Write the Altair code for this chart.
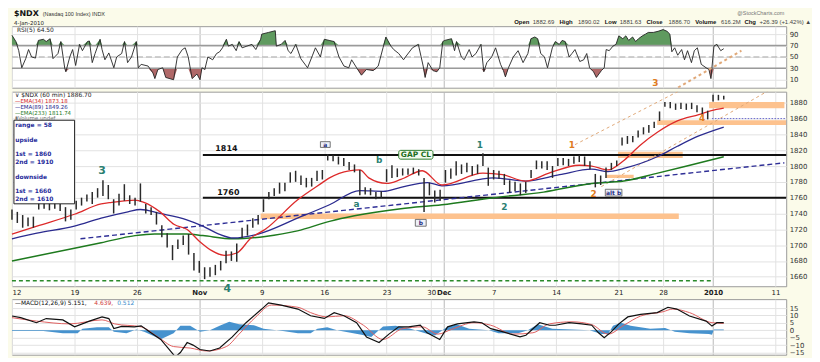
import altair as alt
import pandas as pd

FONT = "DejaVu Sans"
FONT2 = "Liberation Sans"
W = 780
H_RSI, H_PRICE, H_MACD = 62, 196, 56
X_MAX = 434

# x axis = index of 60-minute bars (7 per session, 4 on half days) from 12-Oct-2009
TICK_BARS = [0, 35, 70, 105, 140, 175, 210, 235, 242, 270, 305, 340, 365, 393, 428]
TICK_LABELS = ["12", "19", "26", "Nov", "9", "16", "23", "30", "Dec", "7", "14", "21", "28", "2010", "11"]
MONTH_BARS = [105, 242, 393]

# price bars, one every 3 hourly bars
BAR_STEP = 3
LOW = [1732, 1728, 1722, 1724, 1722, 1745, 1746, 1744, 1746, 1743,
       1730, 1732, 1745, 1750, 1755, 1752, 1760, 1762, 1758, 1740,
       1750, 1756, 1752, 1750, 1755, 1740, 1738, 1726, 1710, 1697,
       1681, 1695, 1700, 1688, 1668, 1665, 1657, 1660, 1662, 1668,
       1677, 1680, 1679, 1709, 1712, 1722, 1726, 1742, 1758, 1762,
       1765, 1768, 1779, 1780, 1776, 1773, 1774, 1781, 1783, 1807,
       1806, 1802, 1800, 1795, 1792, 1763, 1764, 1763, 1758, 1760,
       1780, 1785, 1786, 1788, 1789, 1790, 1788, 1742, 1763, 1754,
       1756, 1779, 1784, 1788, 1790, 1792, 1788, 1790, 1800, 1775,
       1783, 1784, 1776, 1766, 1768, 1763, 1766, 1785, 1796, 1797,
       1795, 1785, 1800, 1801, 1800, 1803, 1805, 1800, 1796, 1773,
       1776, 1785, 1795, 1800, 1826, 1828, 1830, 1836, 1840, 1842,
       1848, 1857, 1875, 1873, 1871, 1872, 1871, 1872, 1868, 1865,
       1859, 1881.6, 1883, 1884]
HIGH = [1745, 1742, 1738, 1735, 1736, 1756, 1755, 1753, 1756, 1752,
        1748, 1745, 1756, 1760, 1764, 1767, 1772, 1782, 1776, 1758,
        1765, 1777, 1763, 1760, 1778, 1752, 1748, 1742, 1725, 1715,
        1700, 1707, 1712, 1714, 1690, 1680, 1672, 1672, 1675, 1680,
        1693, 1692, 1702, 1722, 1726, 1734, 1738, 1758, 1767, 1772,
        1779, 1779, 1792, 1794, 1788, 1785, 1785, 1794, 1795, 1815,
        1814, 1812, 1810, 1805, 1802, 1795, 1773, 1772, 1767, 1768,
        1796, 1801, 1797, 1797, 1797, 1798, 1796, 1785, 1779, 1769,
        1770, 1795, 1797, 1806, 1802, 1804, 1800, 1802, 1816, 1798,
        1795, 1794, 1790, 1782, 1780, 1778, 1780, 1795, 1807, 1806,
        1806, 1800, 1810, 1810, 1809, 1812, 1814, 1812, 1806, 1790,
        1788, 1798, 1804, 1807, 1836, 1838, 1838, 1845, 1849, 1852,
        1856, 1869, 1881, 1881, 1879, 1880, 1879, 1880, 1877, 1874,
        1870, 1890, 1890, 1889]

EMA34 = [(0, 1714), (14, 1724), (35, 1739), (50, 1752), (56, 1754), (69, 1757), (74, 1754), (83, 1742),
         (91, 1726), (98, 1720), (105, 1705), (112, 1693), (119, 1687), (126, 1690), (134, 1709), (142, 1720),
         (160, 1757), (174, 1779), (178, 1785), (189, 1794), (195, 1795), (200, 1785), (210, 1778), (218, 1783),
         (230, 1794), (241, 1776), (264, 1791), (275, 1789), (288, 1781), (301, 1791), (318, 1801), (325, 1800),
         (334, 1795), (343, 1807), (352, 1826), (362, 1843), (373, 1857), (385, 1865), (392, 1870), (399, 1873.18)]
EMA89 = [(0, 1708), (14, 1715), (35, 1724), (50, 1734), (65, 1742), (72, 1745), (83, 1740), (98, 1732),
         (107, 1724), (116, 1714), (124, 1709), (138, 1714), (160, 1734), (178, 1751), (195, 1769), (208, 1768),
         (218, 1773), (233, 1779), (241, 1775), (270, 1785), (288, 1781), (307, 1789), (325, 1796), (334, 1793),
         (343, 1797), (362, 1812), (373, 1825), (385, 1838), (399, 1849.26)]
EMA233 = [(0, 1680), (35, 1696), (50, 1703), (69, 1712), (80, 1714), (98, 1714), (107, 1712), (124, 1708),
          (142, 1711), (160, 1718), (178, 1730), (192, 1737), (218, 1746), (241, 1751), (270, 1760), (298, 1767),
          (325, 1778), (343, 1781), (362, 1791), (380, 1801), (399, 1811.74)]

RSI = [(0, 88), (2.2, 77), (3.8, 61), (5.5, 31), (7.7, 47), (9.3, 63), (11, 50), (13.2, 48), (14.8, 79),
       (17.6, 81), (19.2, 77), (21.4, 82), (23, 47), (25.8, 56), (27.4, 77), (29.6, 30), (30.2, 24), (32.4, 50),
       (34, 63), (35.7, 35), (37.9, 72), (39.5, 61), (42.3, 77), (43.4, 78), (45, 40), (46.6, 56), (49.4, 81),
       (50.5, 63), (52.1, 45), (54.3, 57), (57.1, 31), (58.7, 50), (61.5, 56), (63.1, 77), (64.8, 40), (67, 50),
       (69.7, 77), (70.8, 31), (72.4, 37), (76.3, 34), (79, 22), (80.1, 12), (81.8, 28), (84.5, 31), (86.2, 14),
       (90.6, 10), (92.7, 50), (95.5, 63), (97.1, 66), (98.8, 50), (101, 12), (103.7, 20), (105.4, 10),
       (106.5, 31), (108.1, 28), (109.8, 50), (112.5, 45), (114.7, 56), (116.4, 59), (118, 66), (120.2, 81),
       (121.3, 69), (123.5, 72), (125.7, 61), (127.3, 77), (129, 66), (131.7, 69), (134.5, 72), (136.7, 63),
       (139.4, 81), (140, 90), (143.8, 93), (147.6, 96), (148.2, 69), (150.9, 72), (153.1, 79), (154.8, 61),
       (156.4, 56), (159.1, 72), (161.9, 47), (165.7, 31), (168.5, 53), (170.1, 66), (172.9, 50), (175.1, 81),
       (177.8, 79), (180.6, 77), (183.3, 50), (186.1, 34), (188.8, 31), (190.4, 45), (193.2, 31), (195.9, 18),
       (198.7, 28), (202.5, 26), (205.3, 34), (208, 66), (209.6, 85), (212.4, 69), (214, 63), (216.8, 56),
       (219.5, 45), (220.6, 50), (224.5, 66), (227.8, 72), (230.5, 34), (231.6, 14), (233.3, 40), (236, 26),
       (238.2, 24), (239.8, 31), (241.5, 77), (242.6, 79), (246.4, 82), (248.1, 61), (249.2, 77), (251.9, 50),
       (253.5, 45), (256.3, 63), (257.9, 50), (260.1, 56), (262.9, 72), (264.5, 24), (266.2, 40), (268.9, 50),
       (271.1, 66), (273.9, 37), (275.5, 26), (276.6, 15), (278.3, 31), (281, 50), (283.7, 61), (286.5, 40),
       (289.2, 56), (290.9, 82), (293.1, 85), (294.7, 82), (296.4, 56), (298.5, 50), (300.2, 31), (302.9, 66),
       (304.6, 77), (306.8, 72), (308.4, 79), (310.1, 77), (312.3, 50), (313.9, 56), (315.6, 63), (318.3, 42),
       (320.5, 45), (322.2, 56), (323.8, 31), (326, 24), (327.6, 14), (330.4, 26), (332, 31), (333.1, 63),
       (334.8, 61), (336.9, 69), (338.6, 72), (340.2, 87), (342.4, 82), (344.1, 87), (345.7, 79), (347.9, 85),
       (349.6, 77), (351.2, 82), (353.4, 87), (355.1, 90), (356.7, 93), (359.5, 93), (362.2, 95), (365, 98),
       (367.2, 95), (368.8, 90), (369.9, 59), (371.5, 66), (373.2, 53), (375.4, 63), (377, 45), (378.7, 61),
       (380.9, 40), (382.5, 61), (384.2, 66), (386.4, 37), (389.1, 31), (390.7, 28), (391.8, 12), (393.5, 69),
       (395.1, 72), (397.3, 61), (399, 64.5)]

MACD = [(0, 9.6), (4.9, 8.5), (13.7, 5.1), (19.2, 7.9), (28.5, 7.0), (35.1, 2.3), (43.4, 6.2), (50.5, 9.0),
        (54.3, 7.9), (57.1, 1.1), (61.5, 2.6), (68.6, 2.3), (72.4, 3.0), (77.9, -1.7), (83.4, -6.2), (88.9, -14),
        (91.6, -18), (94.4, -15), (98.2, -8.3), (101.5, -10), (105.4, -13), (110.9, -14), (116.4, -12),
        (123.5, -4.5), (131.2, 5.1), (140, 14.3), (143.8, 18.5), (150.9, 17), (160.3, 14.3), (167.4, 9.8),
        (175.1, 8.0), (180.6, 11.9), (186.1, 9.8), (193.2, 5.1), (198.7, -4.5), (205.8, -8.3), (211.3, -2.6),
        (216.8, 2.3), (222.3, 2.3), (228.9, 3.4), (232.7, -1.7), (239.8, -6.2), (244.2, 2.3), (249.7, 4.3),
        (259, 5.7), (263.4, 5.1), (268.4, 1.1), (273.9, -0.6), (284.8, -4.5), (288.1, -3.4), (295.8, 5.1),
        (301.3, 3.4), (304.6, 3.4), (312.3, 5.1), (319.4, 4.3), (325, 3.4), (328.8, -1.7), (332, -5.1),
        (335.9, -1.1), (340.2, 4.3), (345.2, 9.0), (352.4, 10.7), (361.7, 11.9), (367.7, 15.5), (372.7, 14.3),
        (379.8, 9.6), (389.1, 6.2), (392.4, 2.8), (395.1, 5.1), (399, 5.151)]
SIGNAL = [(0, 8.5), (13.7, 6.2), (32.4, 4.3), (50.5, 7.0), (57.6, 4.3), (72.4, 2.3), (81.8, -4.5), (90.6, -11),
          (99.9, -12), (109.2, -14), (120.2, -11), (127.3, -2.6), (136.7, 9.0), (145.4, 17), (160.3, 15.5),
          (167.4, 11.9), (176.7, 9.0), (186.1, 9.8), (197, 3.4), (208, -6.2), (219, 1.1), (230, 2.3), (238.7, -2.6),
          (246.4, 0.6), (259, 5.1), (268.4, 3.4), (281, -2.6), (292, -1.7), (301.3, 4.3), (313.9, 5.7), (325, 3.8),
          (334.2, -2.6), (343, 3.4), (352.4, 9.6), (365, 12.5), (370.4, 14.3), (379.8, 11.9), (392.4, 5.1),
          (399, 4.639)]
HIST = [(0, -0.5), (17.6, -0.5), (28.5, -2), (36.8, -2), (39.5, 1), (47.7, 2), (54.3, 2), (57.1, -1), (64.2, -2),
        (69.7, 0.5), (74.1, -1), (83.4, -6), (90.6, -2), (94.4, 3), (99.9, 3), (105.4, -1), (110.9, 0), (116.4, 3),
        (121.8, 5.7), (127.3, 4), (135.6, 3.4), (141, 1), (151.9, -0.5), (160.3, -2), (167.4, -2), (171.2, 1),
        (176.7, 2), (182.2, 0), (195.9, -3), (201.4, -4.5), (208, 2.5), (215.1, 3), (223.4, 1), (231.6, -2),
        (237.1, -3.5), (243.7, 2), (249.2, 4), (256.3, 1), (267.3, 0), (272.8, -2), (283.7, -2), (289.2, 0),
        (294.7, 4), (302.9, 1), (313.9, 0.5), (323.8, 0), (330.4, -2.5), (334.2, -2.5), (336.9, 3), (341.3, 5),
        (346.8, 3), (357.8, 1), (366.1, 1.5), (371.6, -1), (379.8, -2), (390.7, -2.5), (392.4, -3), (393.5, 0.5),
        (399, 0.512)]

# annotations (bar index / price)
LEVELS = [1814, 1760]
LEVEL_FROM = 107
SUPPORT_DASH = 1655
SUPPORT_DASH_TO = 392
TREND = [(38.4, 1708), (433, 1804)]
CHANNEL_UP = [(315.6, 1827), (380, 1902)]
CHANNEL_LO = [(330.4, 1774), (430, 1903)]
CHANNEL_UP_RSI = [(370.5, -9), (408.9, 61)]
DOTTED_1860 = [(392.4, 1860), (434, 1860)]
BAND_B0 = [139.4, 339.7, 333.2, 361.7, 390.8]
BAND_B1 = [373.8, 376.0, 348.5, 434.0, 433.0]
BAND_LO = [1733, 1810, 1785, 1852, 1873]
BAND_HI = [1740, 1818, 1789, 1858, 1881]
TEAL_TXT = ["3", "4", "a", "b", "1", "2"]
TEAL_B = [50.5, 120.7, 193.2, 205.8, 262.3, 276.0]
TEAL_P = [1794, 1645, 1752, 1807, 1826, 1748.5]
TEAL_SIZE = [11, 11, 9, 9, 9, 9]
ORANGE_TXT = ["1", "2", "4"]
ORANGE_B = [313.9, 326.0, 386.9]
ORANGE_P = [1827, 1764.5, 1860.3]
BOX_TXT = ["a", "b", "alt b"]
BOX_B0 = [172.9, 226.1, 332.6]
BOX_B1 = [178.4, 232.2, 341.9]
BOX_P0 = [1823.5, 1723.9, 1762.0]
BOX_P1 = [1830.8, 1732.5, 1770.6]
RANGE_LINES = ["range = 58", "upside", "1st = 1860", "2nd = 1910", "downside", "1st = 1660", "2nd = 1610"]
RANGE_P = [1851.7, 1833.3, 1814.9, 1805.0, 1786.6, 1768.2, 1758.3]

XS = alt.Scale(domain=[0, X_MAX], nice=False, zero=False)
YR = alt.Scale(domain=[-4, 104], nice=False, zero=False)
YP = alt.Scale(domain=[1648, 1894], nice=False, zero=False)
YM = alt.Scale(domain=[-16.5, 21], nice=False, zero=False)

lab_arr = "[" + ",".join("'%s'" % s for s in TICK_LABELS) + "]"
val_arr = "[" + ",".join(str(v) for v in TICK_BARS) + "]"
month_test = "indexof([" + ",".join(str(v) for v in MONTH_BARS) + "], datum.value) >= 0"


def x_axis(show_labels):
    return alt.Axis(values=TICK_BARS, labelExpr=lab_arr + "[indexof(" + val_arr + ", datum.value)]",
                    labels=show_labels, ticks=False, domain=False, grid=True, title=None,
                    gridColor={"condition": {"test": month_test, "value": "#B8B8B8"}, "value": "#E2E2E2"},
                    labelFontWeight={"condition": {"test": month_test, "value": "bold"}, "value": "normal"},
                    labelFontSize=7, labelColor="#222", labelPadding=2, labelFont=FONT, labelFlush=True)


def y_axis(vals):
    return alt.Axis(values=vals, orient="right", ticks=False, domain=False, grid=True, gridColor="#E2E2E2",
                    title=None, labelFontSize=7, labelColor="#333", labelPadding=3, labelFont=FONT, format="d")


XA_R, XA_P, XA_M = x_axis(False), x_axis(True), x_axis(False)
YA_R = y_axis([10, 30, 50, 70, 90])
YA_P = y_axis(list(range(1660, 1881, 20)))
YA_M = y_axis([-15, -10, -5, 0, 5, 10, 15])


def pairs(lst):
    return pd.DataFrame({"b": [p[0] for p in lst], "v": [p[1] for p in lst]})


def ptext(text, x, y, size=6, color="#222", weight="normal", align="left", font=FONT):
    return alt.Chart(pd.DataFrame({"t": [text]})).mark_text(
        text=text, fontSize=size, color=color, fontWeight=weight, align=align, baseline="middle", font=font
    ).encode(x=alt.value(x), y=alt.value(y))


def X(f, ax):
    return alt.X(f + ":Q", scale=XS, axis=ax)


# ---------------- RSI panel ----------------
rsi_df = pairs(RSI)
rsi_df["up"] = rsi_df["v"].clip(lower=70)
rsi_df["dn"] = rsi_df["v"].clip(upper=30)
rsi_df["l70"] = 70
rsi_df["l30"] = 30
YRf = lambda f: alt.Y(f + ":Q", scale=YR, axis=YA_R)

rsi_up = alt.Chart(rsi_df).mark_area(color="#5F9A5F").encode(x=X("b", XA_R), y=YRf("up"), y2="l70:Q")
rsi_dn = alt.Chart(rsi_df).mark_area(color="#B06868").encode(x=X("b", XA_R), y=YRf("dn"), y2="l30:Q")
rsi_lv = alt.Chart(pd.DataFrame({"v": [70, 30]})).mark_rule(color="#9A9A9A", strokeWidth=1.5).encode(y=YRf("v"))
rsi_mid = alt.Chart(pd.DataFrame({"v": [50]})).mark_rule(color="#AAAAAA", strokeDash=[6, 3]).encode(y=YRf("v"))
rsi_line = alt.Chart(rsi_df).mark_line(color="#222", strokeWidth=0.9).encode(x=X("b", XA_R), y=YRf("v"))
chan_rsi = alt.Chart(pairs(CHANNEL_UP_RSI)).mark_line(color="#E0A878", strokeDash=[3, 3], clip=True).encode(
    x=X("b", XA_R), y=YRf("v"))
o3 = alt.Chart(pd.DataFrame({"b": [360.6], "v": [4]})).mark_text(
    text="3", color="#E07B20", fontSize=9, fontWeight="bold", font=FONT, baseline="middle").encode(
    x=X("b", XA_R), y=YRf("v"))

hdr = [ptext("$NDX", 2, -12, size=8, weight="bold", color="#111"),
       ptext("(Nasdaq 100 Index) INDX", 31, -12, size=5.5, color="#333", font=FONT2),
       ptext("4-Jan-2010", 2, -3, size=5.5, color="#222"),
       ptext("@StockCharts.com", W - 2, -13, size=5.5, color="#777", align="right", font=FONT2),
       ptext("RSI(5) 64.50", 5, 4, size=6, color="#222")]
segs = [("Open", True), ("1882.69", False), ("High", True), ("1890.02", False), ("Low", True),
        ("1881.63", False), ("Close", True), ("1886.70", False), ("Volume", True), ("616.2M", False),
        ("Chg", True), ("+26.39 (+1.42%) \u25b2", False)]
cx = 506.0
for s, bold in segs:
    hdr.append(ptext(s, cx, -4, size=6, weight="bold" if bold else "normal",
                     color="#111" if bold else "#444", font=FONT2))
    cx += len(s) * (3.55 if bold else 3.2) + 4.5

rsi_chart = alt.layer(rsi_up, rsi_dn, rsi_lv, rsi_mid, rsi_line, chan_rsi, o3, *hdr).properties(
    width=W, height=H_RSI)

# ---------------- price panel ----------------
bars = pd.DataFrame({"b": [i * BAR_STEP for i in range(len(LOW))], "lo": LOW, "hi": HIGH})
YPf = lambda f: alt.Y(f + ":Q", scale=YP, axis=YA_P)
XP = lambda f: X(f, XA_P)

bands = alt.Chart(pd.DataFrame({"b0": BAND_B0, "b1": BAND_B1, "p0": BAND_LO, "p1": BAND_HI})).mark_rect(
    color="#FDC28E", clip=True).encode(x=XP("b0"), x2="b1:Q", y=YPf("p0"), y2="p1:Q")
levels = alt.Chart(pd.DataFrame({"p": LEVELS, "b0": [LEVEL_FROM] * 2, "b1": [X_MAX] * 2})).mark_rule(
    color="#111", strokeWidth=2).encode(x=XP("b0"), x2="b1:Q", y=YPf("p"))
sup = alt.Chart(pd.DataFrame({"p": [SUPPORT_DASH], "b0": [0], "b1": [SUPPORT_DASH_TO]})).mark_rule(
    color="#2A8A2A", strokeWidth=1.5, strokeDash=[4, 3]).encode(x=XP("b0"), x2="b1:Q", y=YPf("p"))
trend = alt.Chart(pairs(TREND)).mark_line(color="#2E2E96", strokeWidth=1.4, strokeDash=[5, 3]).encode(
    x=XP("b"), y=YPf("v"))
ch_up = alt.Chart(pairs(CHANNEL_UP)).mark_line(color="#E0A878", strokeWidth=1, strokeDash=[3, 3], clip=True).encode(
    x=XP("b"), y=YPf("v"))
ch_lo = alt.Chart(pairs(CHANNEL_LO)).mark_line(color="#E0A878", strokeWidth=1, strokeDash=[3, 3], clip=True).encode(
    x=XP("b"), y=YPf("v"))
dot = alt.Chart(pairs(DOTTED_1860)).mark_line(color="#6A6AD0", strokeWidth=1, strokeDash=[1.5, 1.5]).encode(
    x=XP("b"), y=YPf("v"))
e233 = alt.Chart(pairs(EMA233)).mark_line(color="#1E7A1E", strokeWidth=1.5, interpolate="monotone").encode(
    x=XP("b"), y=YPf("v"))
e89 = alt.Chart(pairs(EMA89)).mark_line(color="#2B2B8F", strokeWidth=1.3, interpolate="monotone").encode(
    x=XP("b"), y=YPf("v"))
e34 = alt.Chart(pairs(EMA34)).mark_line(color="#DD2A2A", strokeWidth=1.3, interpolate="monotone").encode(
    x=XP("b"), y=YPf("v"))
pbars = alt.Chart(bars).mark_rule(color="#2A2A2A", strokeWidth=1.5).encode(x=XP("b"), y=YPf("lo"), y2="hi:Q")

teal = alt.Chart(pd.DataFrame({"b": TEAL_B, "p": TEAL_P, "t": TEAL_TXT, "s": TEAL_SIZE})).mark_text(
    color="#2B7F72", fontWeight="bold", font=FONT, baseline="middle").encode(
    x=XP("b"), y=YPf("p"), text="t:N", size=alt.Size("s:Q", scale=None, legend=None))
orange = alt.Chart(pd.DataFrame({"b": ORANGE_B, "p": ORANGE_P, "t": ORANGE_TXT})).mark_text(
    color="#E07B20", fontWeight="bold", font=FONT, fontSize=9, baseline="middle").encode(
    x=XP("b"), y=YPf("p"), text="t:N")
lvl_txt = alt.Chart(pd.DataFrame({"b": [120.2, 121.3], "p": [1821, 1765.7], "t": ["1814", "1760"]})).mark_text(
    color="#111", fontWeight="bold", font=FONT, fontSize=8, baseline="middle").encode(
    x=XP("b"), y=YPf("p"), text="t:N")
gap_box = alt.Chart(pd.DataFrame({"b0": [216.8], "b1": [236.0], "p0": [1808.7], "p1": [1819.8]})).mark_rect(
    fill="#F3FBEF", stroke="#2E7D2E", strokeWidth=1, cornerRadius=2).encode(
    x=XP("b0"), x2="b1:Q", y=YPf("p0"), y2="p1:Q")
gap_txt = alt.Chart(pd.DataFrame({"b": [226.4], "p": [1814.2]})).mark_text(
    text="GAP CL", color="#1E6E1E", fontWeight="bold", font=FONT, fontSize=7.5, baseline="middle").encode(
    x=XP("b"), y=YPf("p"))
box_df = pd.DataFrame({"b0": BOX_B0, "b1": BOX_B1, "p0": BOX_P0, "p1": BOX_P1, "t": BOX_TXT})
box_df["bm"] = (box_df["b0"] + box_df["b1"]) / 2
box_df["pm"] = (box_df["p0"] + box_df["p1"]) / 2
boxes = alt.Chart(box_df).mark_rect(fill="#EEF0F8", stroke="#555", strokeWidth=0.8).encode(
    x=XP("b0"), x2="b1:Q", y=YPf("p0"), y2="p1:Q")
box_txt = alt.Chart(box_df).mark_text(color="#1E2A80", fontWeight="bold", font=FONT, fontSize=6,
                                      baseline="middle").encode(x=XP("bm"), y=YPf("pm"), text="t:N")
rng_box = alt.Chart(pd.DataFrame({"b0": [1.1], "b1": [35.1], "p0": [1752.2], "p1": [1857.9]})).mark_rect(
    fill="white", stroke="#222", strokeWidth=1).encode(x=XP("b0"), x2="b1:Q", y=YPf("p0"), y2="p1:Q")
rng_txt = alt.Chart(pd.DataFrame({"b": [1.8] * len(RANGE_LINES), "p": RANGE_P, "t": RANGE_LINES})).mark_text(
    color="#1E2A9A", fontWeight="bold", font=FONT, fontSize=6, align="left", baseline="middle").encode(
    x=XP("b"), y=YPf("p"), text="t:N")

legend = [ptext("\u2228 $NDX (60 min) 1886.70", 3, 3, size=6, color="#222"),
          ptext("\u2014EMA(34) 1873.18", 3, 9, size=5.5, color="#D42020"),
          ptext("\u2014EMA(89) 1849.26", 3, 15, size=5.5, color="#22228A"),
          ptext("\u2014EMA(233) 1811.74", 3, 21, size=5.5, color="#1B7A1B"),
          ptext("\u25aeVolume undef", 3, 27, size=5.5, color="#777")]

price_chart = alt.layer(bands, levels, sup, trend, ch_up, ch_lo, dot, e233, e89, e34, pbars,
                        teal, orange, lvl_txt, gap_box, gap_txt, boxes, box_txt, rng_box, rng_txt,
                        *legend).properties(width=W, height=H_PRICE)

# ---------------- MACD panel ----------------
hist_df = pairs(HIST)
hist_df["z"] = 0
YMf = lambda f: alt.Y(f + ":Q", scale=YM, axis=YA_M)
hist = alt.Chart(hist_df).mark_area(color="#3C8CCB", opacity=0.95).encode(
    x=X("b", XA_M), y=YMf("v"), y2="z:Q")
sig = alt.Chart(pairs(SIGNAL)).mark_line(color="#E06060", strokeWidth=1, interpolate="monotone", clip=True).encode(
    x=X("b", XA_M), y=YMf("v"))
macd = alt.Chart(pairs(MACD)).mark_line(color="#111", strokeWidth=1.2, clip=True).encode(
    x=X("b", XA_M), y=YMf("v"))
mlab = [ptext("\u2014MACD(12,26,9) 5.151,", 3, 4, size=6, color="#111"),
        ptext("4.639,", 83, 4, size=6, color="#D03A3A"),
        ptext("0.512", 106, 4, size=6, color="#3C8CCB")]
macd_chart = alt.layer(hist, sig, macd, *mlab).properties(width=W, height=H_MACD)

chart = alt.vconcat(rsi_chart, price_chart, macd_chart, spacing=2).properties(
    padding={"left": 0, "top": 0, "right": 0, "bottom": 0}, background="#FBFBEA"
).configure(font=FONT).configure_view(fill="white", stroke="#9A9A9A")

chart.save("out.html", embed_options={"renderer": "svg", "actions": False})
